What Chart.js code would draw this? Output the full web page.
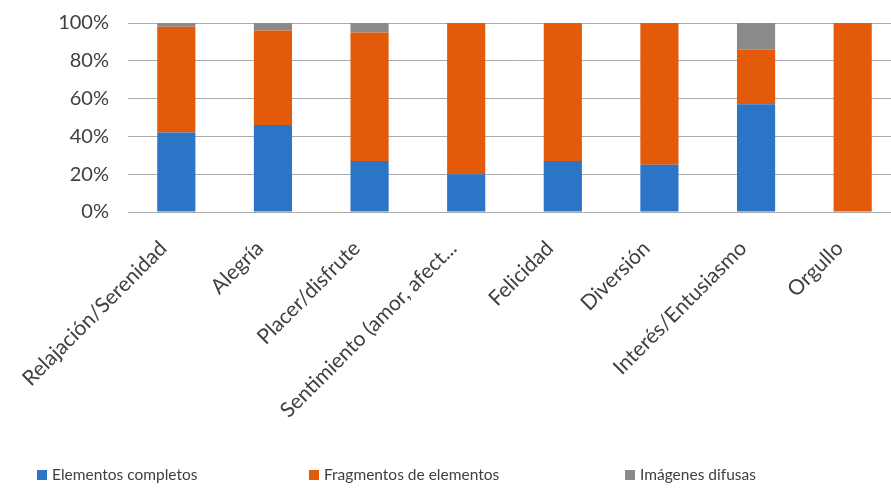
<!DOCTYPE html>
<html>
<head>
<meta charset="utf-8">
<script src="https://cdn.jsdelivr.net/npm/chart.js@4.4.1/dist/chart.umd.min.js"></script>
<style>
    html, body { margin: 0; padding: 0; background: #fff; overflow: hidden; width: 891px; height: 495px; }
    #wrap { position: absolute; left: 0; top: 0; width: 910px; height: 495px; }
    .legend-item { position: absolute; top: 464px; font-family: Lato, sans-serif; font-size: 15.5px; color: #404040; white-space: nowrap; line-height: 20px; }
    .legend-item span { display: inline-block; width: 10px; height: 10px; margin-right: 5px; vertical-align: 0px; }
</style>
</head>
<body>
<div id="wrap"><canvas id="chart" width="910" height="495"></canvas></div>
<div id="legend"></div>
<script>
// Porcentajes por emoción
const categories = ['Relajación/Serenidad', 'Alegría', 'Placer/disfrute', 'Sentimiento (amor, afect...', 'Felicidad', 'Diversión', 'Interés/Entusiasmo', 'Orgullo'];
const completos = [42, 46, 27, 20, 27, 25, 57, 0];
const fragmentos = [56, 50, 68, 80, 73, 75, 29, 100];
const difusas = [2, 4, 5, 0, 0, 0, 14, 0];
const yTicks = [0, 20, 40, 60, 80, 100];

const seriesNames = ['Elementos completos', 'Fragmentos de elementos', 'Imágenes difusas'];
const COLORS = ['#2B74C6', '#E35B0A', '#8A8A8A'];
const legendLeft = [37, 309, 625];

const font = 'Lato, sans-serif';
const gridColor = '#ABABAB';

document.getElementById('legend').innerHTML = seriesNames.map((name, i) =>
    `<div class="legend-item" style="left:${legendLeft[i]}px"><span style="background:${COLORS[i]}"></span>${name}</div>`
).join('');

const ctx = document.getElementById('chart').getContext('2d');
new Chart(ctx, {
    type: 'bar',
    data: {
        labels: categories,
        datasets: [completos, fragmentos, difusas].map((values, i) => ({
            label: seriesNames[i],
            data: values,
            backgroundColor: COLORS[i],
            borderWidth: 0,
            barPercentage: 0.395,
            categoryPercentage: 1,
        })),
    },
    options: {
        responsive: false,
        animation: false,
        layout: { padding: { top: 23, right: 9, left: 0, bottom: 0 } },
        plugins: { legend: { display: false }, tooltip: { enabled: false } },
        scales: {
            x: {
                stacked: true,
                grid: { display: false, drawTicks: false, tickLength: 0 },
                border: { display: true, color: gridColor, width: 1 },
                ticks: {
                    autoSkip: false, minRotation: 45, maxRotation: 45,
                    padding: 24, labelOffset: -13,
                    color: '#404040', font: { family: font, size: 21 },
                },
                afterFit: scale => { scale.height = 283; },
            },
            y: {
                stacked: true, min: 0, max: 100,
                afterBuildTicks: scale => { scale.ticks = yTicks.map(v => ({ value: v })); },
                // tick marks kept invisible: they only push the labels away from the plot
                grid: { color: gridColor, lineWidth: 1, drawTicks: true, tickLength: 19, tickColor: 'rgba(0,0,0,0)' },
                border: { display: false },
                ticks: {
                    padding: 0, color: '#404040', font: { family: font, size: 20 },
                    callback: v => v + '%',
                },
                afterFit: scale => { scale.width = 128; },
            },
        },
    },
});
</script>
</body>
</html>
